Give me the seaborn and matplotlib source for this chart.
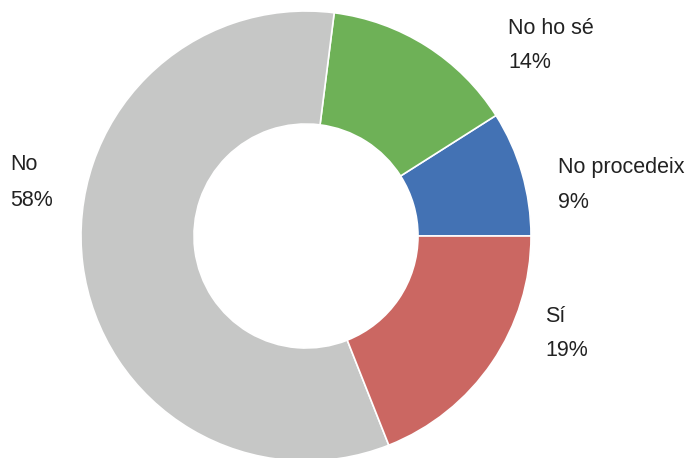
import matplotlib
matplotlib.use("Agg")
import matplotlib.pyplot as plt
import seaborn as sns

categories = ["No procedeix", "No ho sé", "No", "Sí"]
values = [9, 14, 58, 19]
colors = ["#4372B4", "#6EB157", "#C6C7C6", "#CB6762"]
label_pos = [(558, 290, 256), (508, 430, 396), (10, 294, 258), (545, 142, 108)]

sns.set_theme(style="white")
plt.rcParams['font.family'] = ['Liberation Sans', 'DejaVu Sans']

fig = plt.figure(figsize=(6.88, 4.58), dpi=100)
ax = fig.add_axes([0, 0, 1, 1])

ax.pie(values, colors=colors, startangle=0, counterclock=True,
       center=(306, 222), radius=225,
       wedgeprops=dict(width=113, edgecolor="white", linewidth=1.2),
       frame=True)
ax.set_xlim(0, 688)
ax.set_ylim(0, 458)
ax.axis("off")

for cat, v, (x, y1, y2) in zip(categories, values, label_pos):
    ax.text(x, y1, cat, ha="left", va="center", fontsize=15.5,
            color="#222222")
    ax.text(x, y2, f"{v}%", ha="left", va="center", fontsize=15.5,
            color="#222222")

fig.savefig("out.png", dpi=100)
